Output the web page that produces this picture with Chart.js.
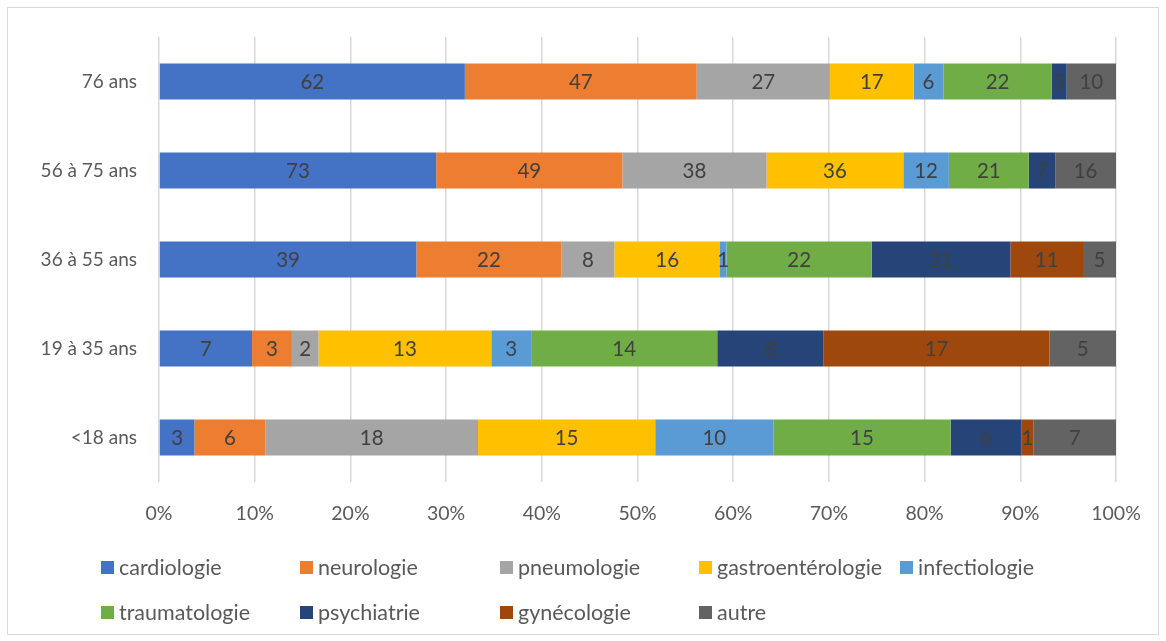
<!DOCTYPE html>
<html>
<head>
<meta charset="utf-8">
<script src="https://cdn.jsdelivr.net/npm/chart.js@4"></script>
<style>
  body { margin: 0; background: #fff; font-family: Lato, "Open Sans", sans-serif; }
  #wrap { position: relative; width: 1166px; height: 641px; }
  #cadre { position: absolute; left: 7px; top: 7px; width: 1152px; height: 628px; border: 1px solid #d9d9d9; box-sizing: border-box; }
  #legende .item { position: absolute; display: flex; align-items: center; font-size: 21.5px; color: #595959; white-space: nowrap; }
  #legende .carre { width: 13px; height: 13px; margin-right: 5px; }
</style>
</head>
<body>
<div id="wrap">
  <div id="cadre"></div>
  <canvas id="graphe" width="1166" height="641"></canvas>
  <div id="legende"></div>
</div>
<script>
// tranches d'age (de haut en bas)
var ages = ['76 ans', '56 à 75 ans', '36 à 55 ans', '19 à 35 ans', '<18 ans'];
var specialites = ['cardiologie', 'neurologie', 'pneumologie', 'gastroentérologie', 'infectiologie',
                   'traumatologie', 'psychiatrie', 'gynécologie', 'autre'];
var couleurs = ['#4472C4', '#ED7D31', '#A5A5A5', '#FFC000', '#5B9BD5', '#70AD47', '#264478', '#9E480E', '#636363'];

// effectifs par specialite
var cardiologie = [62, 73, 39, 7, 3];
var neurologie = [47, 49, 22, 3, 6];
var pneumologie = [27, 38, 8, 2, 18];
var gastro = [17, 36, 16, 13, 15];
var infectiologie = [6, 12, 1, 3, 10];
var traumatologie = [22, 21, 22, 14, 15];
var psychiatrie = [3, 7, 21, 8, 6];
var gynecologie = [0, 0, 11, 17, 1];
var autre = [10, 16, 5, 5, 7];

var series = [cardiologie, neurologie, pneumologie, gastro, infectiologie, traumatologie, psychiatrie, gynecologie, autre];

// totaux par tranche pour passer en 100%
var totaux = ages.map(function (a, i) {
    var s = 0;
    series.forEach(function (serie) { s += serie[i]; });
    return s;
});

var datasets = series.map(function (serie, k) {
    return {
        label: specialites[k],
        brut: serie,
        data: serie.map(function (v, i) { return v / totaux[i] * 100; }),
        backgroundColor: couleurs[k],
        borderWidth: 0,
        barPercentage: 0.404,
        categoryPercentage: 1
    };
});

// etiquettes des valeurs au milieu des segments
var etiquettes = {
    id: 'etiquettes',
    afterDatasetsDraw: function (chart) {
        var ctx = chart.ctx;
        ctx.save();
        ctx.font = '20.5px Lato';
        ctx.fillStyle = '#404040';
        ctx.textAlign = 'center';
        ctx.textBaseline = 'middle';
        chart.data.datasets.forEach(function (ds, k) {
            chart.getDatasetMeta(k).data.forEach(function (bar, i) {
                var v = ds.brut[i];
                if (!v) return;
                ctx.fillText(v, (bar.x + bar.base) / 2, bar.y + 1);
            });
        });
        ctx.restore();
    }
};

var ctx = document.getElementById('graphe').getContext('2d');
var monGraphe = new Chart(ctx, {
    type: 'bar',
    data: { labels: ages, datasets: datasets },
    options: {
        indexAxis: 'y',
        responsive: false,
        animation: false,
        layout: { padding: { left: 0, right: 50, top: 37, bottom: 109 } },
        plugins: { legend: { display: false }, tooltip: { enabled: false } },
        scales: {
            x: {
                stacked: true, min: 0, max: 100,
                ticks: { stepSize: 10, padding: 20, color: '#595959', font: { family: 'Lato', size: 19.5 },
                         callback: function (v) { return v + '%'; } },
                grid: { color: '#d9d9d9', lineWidth: 1.5, drawTicks: false },
                border: { display: false },
                afterFit: function (s) { s.height = 50; }
            },
            y: {
                stacked: true,
                ticks: { padding: 22, color: '#595959', font: { family: 'Lato', size: 19 } },
                grid: { display: false, drawTicks: false },
                border: { display: false },
                afterFit: function (s) { s.width = 159; }
            }
        }
    },
    plugins: [etiquettes]
});

// legende faite a la main (colonnes comme dans Excel)
var colonnes = [101, 300, 500, 699, 900];
var lignes = [567, 612];
var leg = document.getElementById('legende');
specialites.forEach(function (nom, k) {
    var d = document.createElement('div');
    d.className = 'item';
    d.style.left = colonnes[k % 5] + 'px';
    d.style.top = (lignes[Math.floor(k / 5)] - 12) + 'px';
    d.style.height = '24px';
    d.innerHTML = '<span class="carre" style="background:' + couleurs[k] + '"></span>' + nom;
    leg.appendChild(d);
});
</script>
</body>
</html>
